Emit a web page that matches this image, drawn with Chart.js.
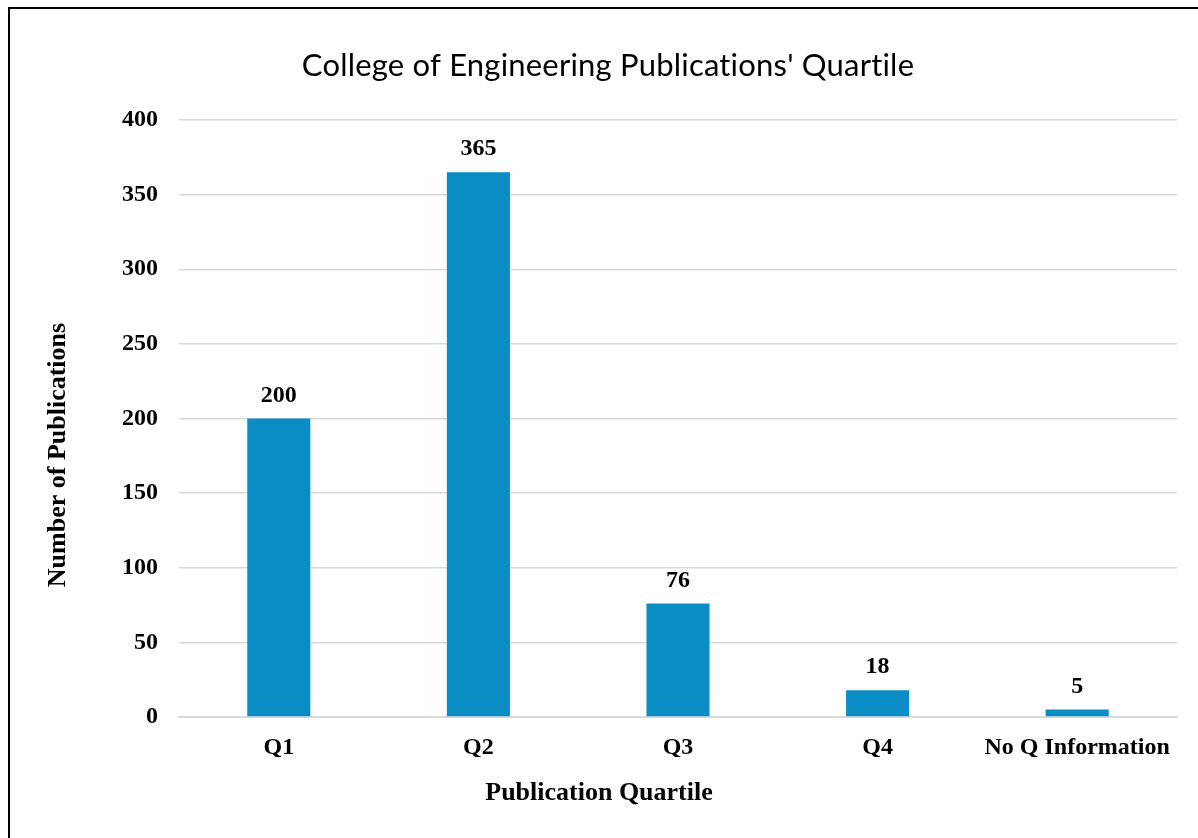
<!DOCTYPE html>
<html lang="en">
<head>
  <meta charset="UTF-8">
  <title>College of Engineering Publications' Quartile</title>
  <script src="https://cdn.jsdelivr.net/npm/chart.js"></script>
  <style>
    html, body {
      margin: 0;
      padding: 0;
      background: #fff;
      overflow: hidden;
    }

    /* chart sits on the whole window so chart coords = page coords */
    .chart-wrap {
      position: absolute;
      left: 0;
      top: 0;
      width: 1198px;
      height: 838px;
    }

    /* outer black frame, runs off the right and bottom edge */
    .frame {
      position: absolute;
      left: 8px;
      top: 7px;
      right: -20px;
      bottom: -20px;
      border: 2px solid #000;
      pointer-events: none;
    }
  </style>
</head>
<body>
  <div class="chart-wrap">
    <canvas id="quartileChart" width="1198" height="838"></canvas>
  </div>
  <div class="frame"></div>

  <script>
    // Data
    const quartiles = ['Q1', 'Q2', 'Q3', 'Q4', 'No Q Information'];
    const publications = [200, 365, 76, 18, 5];
    const yTicks = [0, 50, 100, 150, 200, 250, 300, 350, 400];

    const chartTitle = "College of Engineering Publications' Quartile";
    const xTitle = 'Publication Quartile';
    const yTitle = 'Number of Publications';

    const serifBold = { family: '"Liberation Serif", "Times New Roman", serif', size: 24, weight: 'bold' };

    // titles and value labels drawn on top of the chart
    const textPlugin = {
      id: 'textPlugin',
      afterDatasetsDraw(chart) {
        const ctx = chart.ctx;
        ctx.save();
        ctx.fillStyle = '#000';

        // value labels above each bar
        ctx.font = 'bold 24px "Liberation Serif", serif';
        ctx.textAlign = 'center';
        ctx.textBaseline = 'middle';
        chart.getDatasetMeta(0).data.forEach((bar, i) => {
          ctx.fillText(String(publications[i]), bar.x, bar.y - 23);
        });

        // chart title (tiny letter spacing keeps "ti" from joining)
        ctx.font = '31px Lato, sans-serif';
        ctx.letterSpacing = '0.2px';
        ctx.fillText(chartTitle, 608, 66);
        ctx.letterSpacing = '0px';

        // x axis title
        ctx.font = 'bold 26px "Liberation Serif", serif';
        ctx.fillText(xTitle, 599, 793);

        // y axis title (rotated)
        ctx.translate(58, 455);
        ctx.rotate(-Math.PI / 2);
        ctx.fillText(yTitle, 0, 0);
        ctx.restore();
      }
    };

    const ctx = document.getElementById('quartileChart').getContext('2d');

    new Chart(ctx, {
      type: 'bar',
      data: {
        labels: quartiles,
        datasets: [{
          data: publications,
          backgroundColor: '#0a8cc4',
          barPercentage: 0.316,
          categoryPercentage: 1
        }]
      },
      options: {
        responsive: false,
        animation: false,
        layout: {
          padding: { top: 120, left: 0, right: 21, bottom: 81 }
        },
        plugins: {
          legend: { display: false },
          tooltip: { enabled: false },
          title: { display: false }
        },
        scales: {
          x: {
            grid: { display: false, drawTicks: false },
            border: { color: '#d9d9d9', width: 2 },
            ticks: {
              color: '#000',
              font: serifBold,
              padding: 16,
              maxRotation: 0
            },
            afterFit(scale) { scale.height = 40; }
          },
          y: {
            min: 0,
            max: 400,
            afterBuildTicks(scale) {
              scale.ticks = yTicks.map(v => ({ value: v }));
            },
            grid: { color: '#d9d9d9', lineWidth: 1.5, drawTicks: false },
            border: { display: false },
            ticks: {
              color: '#000',
              font: serifBold,
              padding: 21
            },
            afterFit(scale) { scale.width = 179; }
          }
        }
      },
      plugins: [textPlugin]
    });
  </script>
</body>
</html>
